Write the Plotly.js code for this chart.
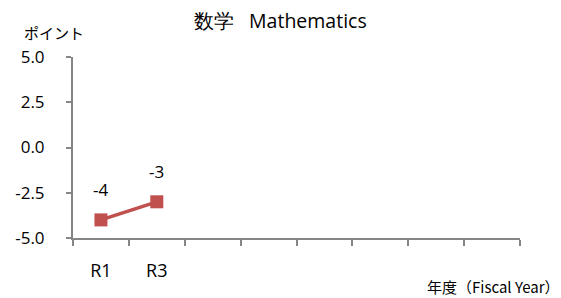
<!DOCTYPE html>
<html><head><meta charset="utf-8">
<script src="https://cdn.plot.ly/plotly-3.0.1.min.js"></script>
<style>html,body{margin:0;padding:0;background:#fff}#chart{width:561px;height:298px}</style>
</head><body><div id="chart"></div>
<script>
const categories = ["R1", "R3"];
const slotCount = 8;
const values = [-4, -3];
const valueLabels = ["-4", "-3"];
const yTickVals = [5, 2.5, 0, -2.5, -5];
const yTickText = ["5.0", "2.5", "0.0", "-2.5", "-5.0"];

const xIdx = categories.map((c, i) => i);
const boundaries = [];
for (let i = 0; i <= slotCount; i++) boundaries.push(i - 0.5);

const font = "Open Sans, Liberation Sans, sans-serif";
const trace = {
  x: xIdx, y: values, type: "scatter", mode: "lines+markers",
  line: {color: "#C0504D", width: 3.5},
  marker: {symbol: "square", size: 13, color: "#C0504D"},
  cliponaxis: false, hoverinfo: "skip", showlegend: false
};
const labelTrace = {x: xIdx, y: values, xaxis: "x2", type: "scatter", mode: "none", showlegend: false, hoverinfo: "skip"};

const valueAnns = xIdx.map((xi, i) => ({
  x: xi, y: values[i], xref: "x", yref: "y", text: valueLabels[i], showarrow: false,
  yshift: 30, font: {family: font, size: 17, color: "#000"}
}));

const layout = {
  width: 561, height: 298,
  margin: {l: 72.5, r: 41, t: 57, b: 60},
  paper_bgcolor: "#fff", plot_bgcolor: "#fff",
  title: {text: "数学\u2002 Mathematics", x: 0.5, xanchor: "center", y: 0.93, yanchor: "middle",
          font: {family: font, size: 19.5, color: "#000"}},
  xaxis: {range: [-0.5, slotCount - 0.5], tickvals: boundaries, ticktext: boundaries.map(() => ""),
          ticks: "outside", ticklen: 6, tickcolor: "#868686", tickwidth: 2,
          showline: true, linecolor: "#868686", linewidth: 2, showgrid: false, zeroline: false, fixedrange: true},
  xaxis2: {overlaying: "x", side: "bottom", range: [-0.5, slotCount - 0.5], tickvals: xIdx, ticktext: categories,
           ticks: "", showline: false, showgrid: false, zeroline: false,
           tickfont: {family: font, size: 18, color: "#000"}, ticklabelstandoff: 20},
  yaxis: {range: [-5, 5], tickvals: yTickVals, ticktext: yTickText,
          ticks: "outside", ticklen: 5, tickcolor: "#868686", tickwidth: 2,
          showline: true, linecolor: "#868686", linewidth: 2, showgrid: false, zeroline: false,
          tickfont: {family: font, size: 17, color: "#000"}, ticklabelstandoff: 18},
  annotations: valueAnns.concat([
    {text: "ポイント", xref: "paper", yref: "paper", x: -0.115, y: 1 + 24/181, xanchor: "left", yanchor: "middle",
     showarrow: false, font: {family: "Noto Sans CJK JP", size: 15, color: "#000"}},
    {text: "年度（Fiscal Year）", xref: "paper", yref: "paper", x: 1.095, y: -48/181, xanchor: "right", yanchor: "middle",
     showarrow: false, font: {family: "Noto Sans CJK JP, " + font, size: 15, color: "#000"}}
  ])
};
Plotly.newPlot("chart", [trace, labelTrace], layout, {staticPlot: true, displayModeBar: false});
</script></body></html>
